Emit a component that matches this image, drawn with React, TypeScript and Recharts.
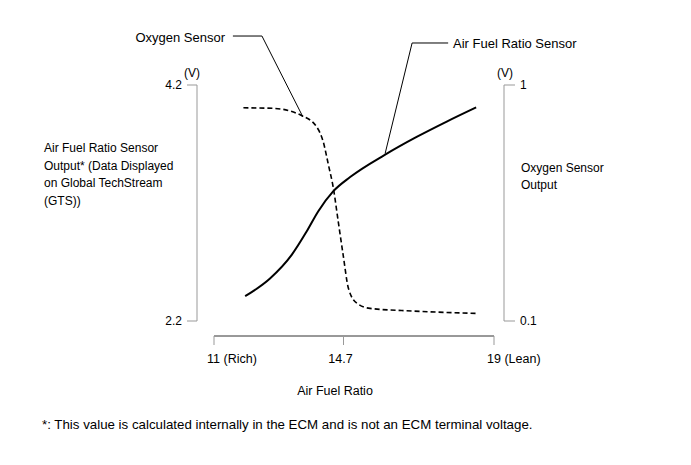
import { ComposedChart, Line, XAxis, YAxis, ReferenceLine, Customized } from 'recharts';

// x axis: air fuel ratio
const afrTicks = [11, 14.7, 19];
const afrTickNumbers = ['11', '14.7', '19'];
const afrTickSuffixes = [' (Rich)', '', ' (Lean)'];

// left axis: air fuel ratio sensor output (V)
const afSensorTicks = [2.2, 4.2];
// right axis: oxygen sensor output (V)
const o2SensorTicks = [0.1, 1];

const afSensorRatio = [11.89, 12.6, 13.22, 13.65, 13.98, 14.41, 14.89, 15.89, 16.79, 17.65, 18.49];
const afSensorVolts = [2.41, 2.56, 2.76, 2.96, 3.13, 3.3, 3.42, 3.61, 3.76, 3.89, 4.01];

const o2SensorRatio = [11.84, 12.69, 13.51, 13.93, 14.12, 14.27, 14.41, 14.55, 14.69, 14.84, 15.08, 15.46, 16.69, 18.51];
const o2SensorVolts = [0.913, 0.911, 0.883, 0.841, 0.784, 0.695, 0.607, 0.479, 0.352, 0.225, 0.168, 0.148, 0.138, 0.129];

const leftTitle = ['Air Fuel Ratio Sensor', 'Output* (Data Displayed', 'on Global TechStream', '(GTS))'];
const rightTitle = ['Oxygen Sensor', 'Output'];
const footnote = '*: This value is calculated internally in the ECM and is not an ECM terminal voltage.';

const afData = afSensorRatio.map((afr, i) => ({ afr, volts: afSensorVolts[i] }));
const o2Data = o2SensorRatio.map((afr, i) => ({ afr, volts: o2SensorVolts[i] }));

const FONT = '"Liberation Sans", Arial, sans-serif';

const Annotations = () => (
  <g fontFamily={FONT} fontSize={12} fill="#000">
    <text x={225} y={42} fontSize={13} textAnchor="end">Oxygen Sensor</text>
    <text x={453} y={48} fontSize={13}>Air Fuel Ratio Sensor</text>
    <text x={192} y={77} textAnchor="middle">(V)</text>
    <text x={505} y={77} textAnchor="middle">(V)</text>
    {leftTitle.map((line, i) => (
      <text key={line} x={44} y={152 + i * 17.6}>{line}</text>
    ))}
    {rightTitle.map((line, i) => (
      <text key={line} x={521} y={172 + i * 17}>{line}</text>
    ))}
    <text x={335} y={395} fontSize={12.5} textAnchor="middle">Air Fuel Ratio</text>
    <text x={42} y={429} fontSize={13.3}>{footnote}</text>
  </g>
);

// number sits centred on the tick, the (Rich)/(Lean) note runs on to the right
const AfrTick = (props: any) => {
  const { x, y, payload } = props;
  const i = afrTicks.indexOf(payload.value);
  const num = afrTickNumbers[i] ?? String(payload.value);
  const suffix = afrTickSuffixes[i] ?? '';
  const fs = 12.5;
  if (!suffix) {
    return (
      <text x={x - 3} y={y} dy="0.71em" textAnchor="middle" fontSize={fs} fontFamily={FONT} fill="#000">{num}</text>
    );
  }
  const half = (num.length * 0.556 * fs) / 2;
  return (
    <text x={x - half} y={y} dy="0.71em" textAnchor="start" fontSize={fs} fontFamily={FONT} fill="#000">
      {num + suffix}
    </text>
  );
};

const tickStyle = { fill: '#000', fontSize: 12, fontFamily: FONT };

export default function App() {
  return (
    <div style={{ position: 'absolute', left: 0, top: 0, background: '#fff' }}>
      <ComposedChart width={691} height={465} margin={{ top: 85, right: 127, bottom: 89, left: 137 }}>
        <XAxis
          type="number"
          dataKey="afr"
          domain={[11, 19]}
          ticks={afrTicks}
          padding={{ left: 17, right: 10 }}
          height={40}
          tickSize={9}
          tickMargin={9}
          tick={<AfrTick />}
          axisLine={{ stroke: '#333', strokeDasharray: '0 17 280 1000' }}
          tickLine={{ stroke: '#999' }}
          interval={0}
        />
        <YAxis
          yAxisId="af"
          domain={[2.2, 4.2]}
          ticks={afSensorTicks}
          tickFormatter={(v: number) => v.toFixed(1)}
          padding={{ top: 0, bottom: 15 }}
          width={60}
          tickSize={10}
          tickMargin={5}
          tick={tickStyle}
          axisLine={{ stroke: '#999', strokeDasharray: '236 1000' }}
          tickLine={{ stroke: '#999' }}
          interval={0}
        />
        <YAxis
          yAxisId="o2"
          orientation="right"
          domain={[0.1, 1]}
          ticks={o2SensorTicks}
          padding={{ top: 0, bottom: 15 }}
          width={60}
          tickSize={11}
          tickMargin={5}
          tick={tickStyle}
          axisLine={{ stroke: '#999', strokeDasharray: '236 1000' }}
          tickLine={{ stroke: '#999' }}
          interval={0}
        />
        <Line
          yAxisId="af"
          data={afData}
          dataKey="volts"
          type="monotone"
          stroke="#000"
          strokeWidth={2}
          dot={false}
          isAnimationActive={false}
        />
        <Line
          yAxisId="o2"
          data={o2Data}
          dataKey="volts"
          type="monotone"
          stroke="#000"
          strokeWidth={1.6}
          strokeDasharray="5 3"
          dot={false}
          isAnimationActive={false}
        />
        {/* leader lines for the callouts */}
        <ReferenceLine yAxisId="af" ifOverflow="visible" stroke="#000" strokeWidth={1}
          segment={[{ x: 11.54, y: 4.615 }, { x: 12.37, y: 4.615 }]} />
        <ReferenceLine yAxisId="af" ifOverflow="visible" stroke="#000" strokeWidth={1}
          segment={[{ x: 12.37, y: 4.615 }, { x: 13.54, y: 3.93 }]} />
        <ReferenceLine yAxisId="af" ifOverflow="visible" stroke="#000" strokeWidth={1}
          segment={[{ x: 17.69, y: 4.556 }, { x: 16.66, y: 4.556 }]} />
        <ReferenceLine yAxisId="af" ifOverflow="visible" stroke="#000" strokeWidth={1}
          segment={[{ x: 16.66, y: 4.556 }, { x: 15.89, y: 3.62 }]} />
        <Customized component={Annotations} />
      </ComposedChart>
    </div>
  );
}
